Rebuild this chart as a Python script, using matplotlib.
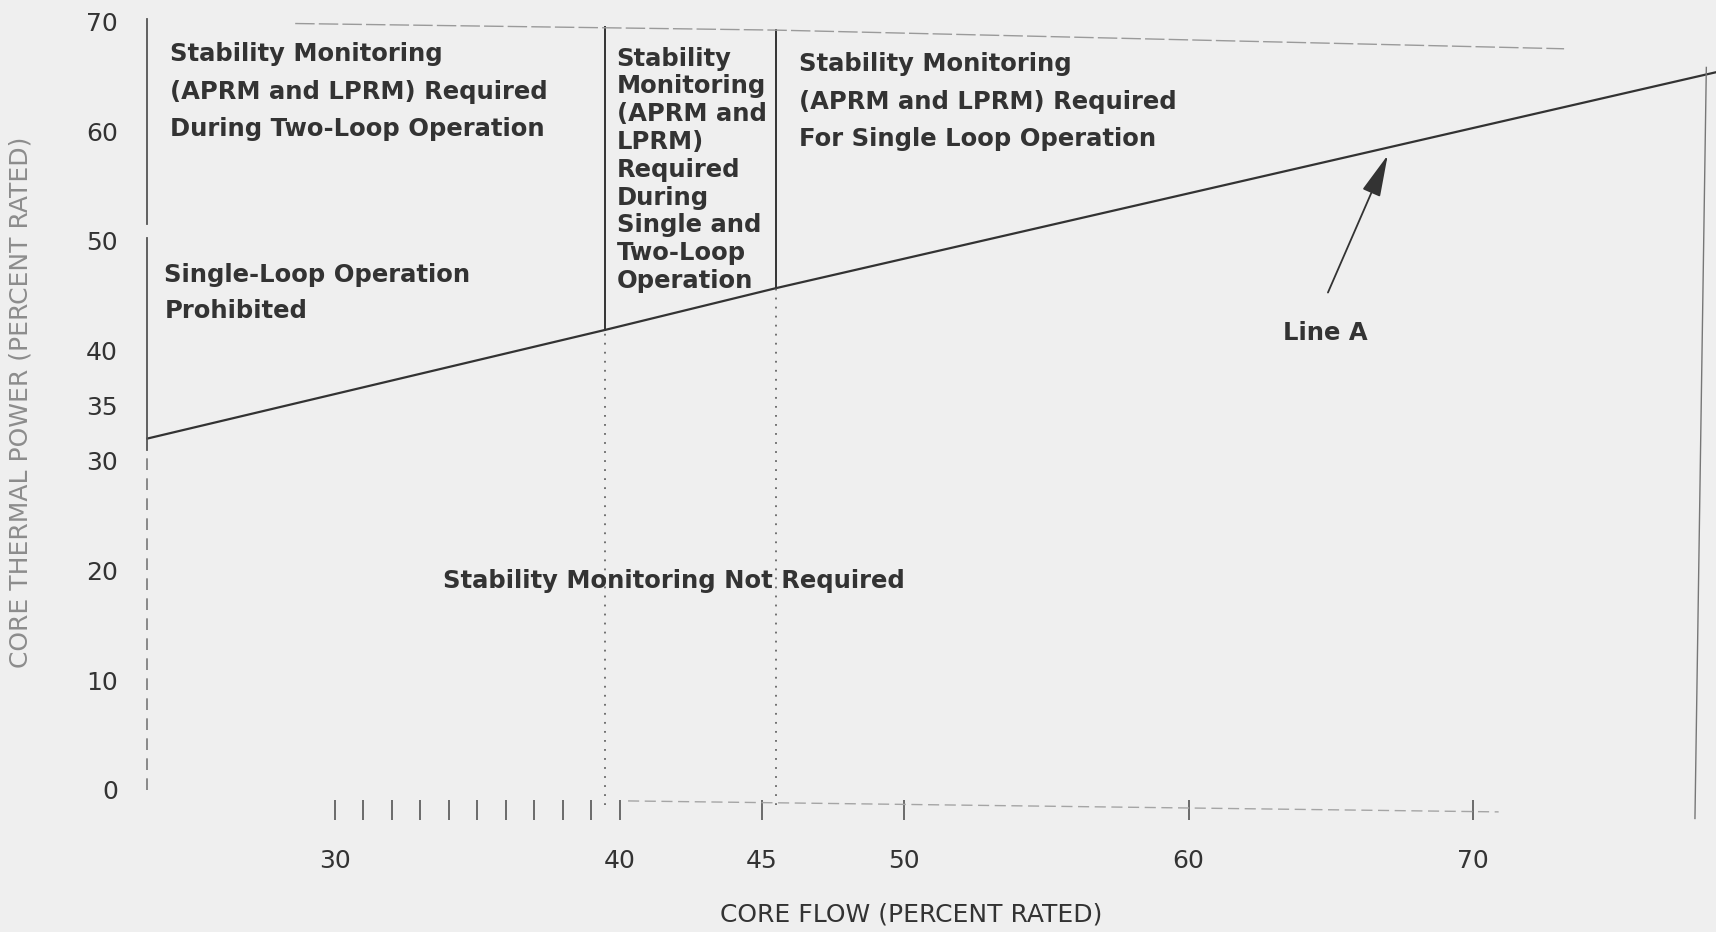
import matplotlib.pyplot as plt

# chart values
flow_ticks = [30, 40, 45, 50, 60, 70]
flow_minor = [31, 32, 33, 34, 35, 36, 37, 38, 39]
power_ticks = [0, 10, 20, 30, 35, 40, 50, 60, 70]

line_a_flow = [23.4, 39.5, 45.5, 78.6]
line_a_power = [32.0, 41.9, 45.7, 65.4]

# region boundaries as drawn on the scan (meant as 40 and 45)
boundary_flow = [39.5, 45.5]
boundary_top = [69.5, 69.2]

top_edge_flow = [28.6, 45.5, 73.2]
top_edge_power = [69.8, 69.2, 67.5]

ink = "#333333"
paper = "#efefef"


def start():
    fig = plt.figure(figsize=(17.16, 9.32), dpi=100, facecolor=paper)
    ax = fig.add_axes([0.0825, 0.1053, 0.9185, 0.8836])
    ax.set_facecolor(paper)
    ax.set_xlim(23.2, 78.6)
    ax.set_ylim(-4, 71)
    for s in ax.spines.values():
        s.set_visible(False)
    ax.spines['bottom'].set_position(('data', -1.8))

    # line A
    ax.plot(line_a_flow, line_a_power, color=ink, lw=1.6, clip_on=False)

    # region boundaries: solid above line A, dotted below
    for fx, top in zip(boundary_flow, boundary_top):
        pa = line_a_power[line_a_flow.index(fx)]
        ax.plot([fx, fx], [pa, top], color=ink, lw=1.4)
        ax.plot([fx, fx], [-1.4, pa], color="#666666", lw=1.3, ls=(0, (1, 4)))

    # left axis line, solid then broken
    ax.plot([23.4, 23.4], [51.5, 70.2], color="#555555", lw=1.3)
    ax.plot([23.4, 23.4], [31, 50.3], color="#555555", lw=1.3)
    ax.plot([23.4, 23.4], [0, 31], color="#777777", lw=1.2, ls=(0, (7, 5)))
    # faint top and right edges of the frame
    ax.plot(top_edge_flow, top_edge_power, color="#9a9a9a", lw=1.0, ls=(0, (14, 3)))
    ax.plot([78.2, 77.8], [65.8, -2.6], color="#777777", lw=1.0)
    ax.plot([40.3, 70.9], [-1.0, -2.0], color="#a5a5a5", lw=1.0, ls=(0, (8, 4)))

    # ticks
    ax.set_xticks(flow_ticks)
    ax.set_xticks(flow_minor, minor=True)
    ax.set_yticks(power_ticks)
    ax.tick_params(axis='x', which='both', direction='inout', length=14, width=1.2,
                   color="#555555", labelsize=18, labelcolor=ink, pad=21)
    ax.tick_params(axis='y', length=0, labelsize=18, labelcolor=ink, pad=17)

    ax.set_xlabel("CORE FLOW (PERCENT RATED)", fontsize=18, color=ink)
    ax.xaxis.set_label_coords(0.488, -0.083)
    ax.set_ylabel("CORE THERMAL POWER (PERCENT RATED)", fontsize=18, color="#8c8c8c")
    ax.yaxis.set_label_coords(-0.0695, 0.524)

    bold = dict(fontsize=17.5, fontweight='bold', color=ink, va='top', ha='left')
    ax.text(24.2, 68.1, "Stability Monitoring\n(APRM and LPRM) Required\nDuring Two-Loop Operation",
            linespacing=1.71, **bold)
    ax.text(24.0, 48.0, "Single-Loop Operation\nProhibited", linespacing=1.64, **bold)
    ax.text(39.9, 67.7, "Stability\nMonitoring\n(APRM and\nLPRM)\nRequired\nDuring\nSingle and\nTwo-Loop\nOperation",
            linespacing=1.20, **bold)
    ax.text(46.3, 67.2, "Stability Monitoring\n(APRM and LPRM) Required\nFor Single Loop Operation",
            linespacing=1.71, **bold)
    ax.text(41.9, 19.0, "Stability Monitoring Not Required", fontsize=17.5, fontweight='bold',
            color=ink, ha='center', va='center')
    ax.text(64.8, 41.6, "Line A", fontsize=17.5, fontweight='bold', color=ink,
            ha='center', va='center')
    ax.annotate("", xy=(67.0, 57.8), xytext=(64.9, 45.3),
                arrowprops=dict(arrowstyle='-|>,head_length=1.3,head_width=0.3',
                                color=ink, lw=1.3, mutation_scale=20, shrinkA=0, shrinkB=0))

    fig.savefig("out.png", dpi=100, facecolor=paper)


if __name__ == "__main__":
    start()
